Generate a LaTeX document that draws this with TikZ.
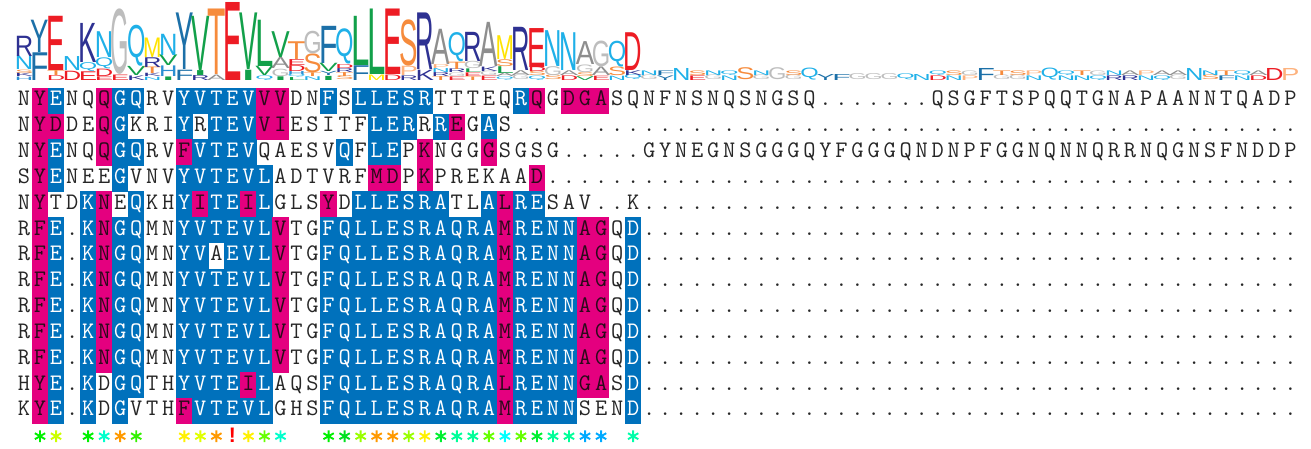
\documentclass[tikz,border=0pt]{standalone}
\usepackage{fontspec}
\usepackage{graphicx}
\newfontfamily\logofont{Liberation Sans}[BoldFont={Liberation Sans Bold}]
\definecolor{hlblue}{HTML}{0071BC}
\definecolor{hlpink}{HTML}{E4007F}
\definecolor{txtdark}{HTML}{262626}
\definecolor{pinktxt}{HTML}{2A0A1A}
\definecolor{aaA}{HTML}{8E8E8E}
\definecolor{aaG}{HTML}{BDBDBD}
\definecolor{aaR}{HTML}{2E3192}
\definecolor{aaK}{HTML}{2E3192}
\definecolor{aaH}{HTML}{2B8FD2}
\definecolor{aaD}{HTML}{ED1C24}
\definecolor{aaE}{HTML}{ED1C24}
\definecolor{aaN}{HTML}{1FB0E8}
\definecolor{aaQ}{HTML}{1FB0E8}
\definecolor{aaF}{HTML}{1C70A8}
\definecolor{aaY}{HTML}{1C70A8}
\definecolor{aaW}{HTML}{1C70A8}
\definecolor{aaI}{HTML}{12A04A}
\definecolor{aaL}{HTML}{12A04A}
\definecolor{aaV}{HTML}{12A04A}
\definecolor{aaM}{HTML}{FFE300}
\definecolor{aaP}{HTML}{FDB27E}
\definecolor{aaS}{HTML}{F68B3C}
\definecolor{aaT}{HTML}{F68B3C}
\definecolor{aaC}{HTML}{F3A0C0}

\makeatletter
\newcounter{seqcol}
\def\pophl#1#2\relax{\def\curhl{#1}\def\hlrest{#2}}
\newcommand\drawcell[4]{%
  \pgfmathsetmacro\cellx{16+16.03*#2}%
  \pgfmathsetmacro\celly{88+25.85*(#1-1)}%
  \def\celltc{txtdark}%
  \if#4b\fill[hlblue] (\cellx-0.25,\celly-0.25) rectangle (\cellx+16.28,\celly+26.1);\def\celltc{white}\fi
  \if#4p\fill[hlpink] (\cellx-0.25,\celly-0.25) rectangle (\cellx+16.28,\celly+26.1);\def\celltc{pinktxt}\fi
  \node[seq,text=\celltc] (s#1-#2) at (\cellx+8.015,\celly+17.75) {#3};%
}
\newcommand\seqrow[3]{%
  \def\hlrest{#3wwwwwwwwwwwwwwwwwwwwwwwwwwwwwwwwwwwwwwwwwwwwwwwwwwwwww}%
  \setcounter{seqcol}{0}%
  \@tfor\seqch:=#2\do{%
    \expandafter\pophl\hlrest\relax
    \drawcell{#1}{\theseqcol}{\seqch}{\curhl}%
    \stepcounter{seqcol}}%
  \loop\ifnum\value{seqcol}<80
    \drawcell{#1}{\theseqcol}{.}{w}\stepcounter{seqcol}%
  \repeat
}
\makeatother

\newcommand\logocol[2]{%
  \gdef\lgn{0}\gdef\lgh{0}%
  \foreach \l/\k in {#2}{\pgfmathparse{\lgn+\k}\xdef\lgn{\pgfmathresult}}%
  \foreach \l/\k in {#2}{\pgfmathparse{\lgh-(\k/\lgn)*ln(\k/\lgn)/0.693147}\xdef\lgh{\pgfmathresult}}%
  \pgfmathparse{(4.321928-\lgh)*\lgn/13*18.05}\xdef\lgR{\pgfmathresult}%
  \gdef\lgy{80}%
  \foreach \l/\k [count=\j] in {#2}{%
    \pgfmathsetmacro\hh{\lgR*\k/\lgn}%
    \node[lg,text=aa\l] (lg#1-\j) at ({16+16.03*#1-1.2},\lgy) {\resizebox*{18.4pt}{\hh pt}{\logofont\l}};%
    \pgfmathparse{\lgy-\hh}\xdef\lgy{\pgfmathresult}%
  }%
}

\begin{document}
\begin{tikzpicture}[x=1pt,y=-1pt,
  seq/.style={font=\ttfamily\fontsize{23.7}{24}\selectfont, inner sep=0pt, anchor=base},
  lg/.style={inner sep=0pt, outer sep=0pt, anchor=south west, font=\fontsize{20}{20}\selectfont},
  astk/.style={circle, inner sep=0pt, minimum size=11.5pt},
  bangst/.style={text=red, font=\logofont\bfseries\fontsize{21}{21}\selectfont, inner sep=0pt, anchor=base}]
\useasboundingbox (0,0) rectangle (1311,448);

% ---------- sequence logo ----------
\logocol{0}{H/1,K/1,S/1,N/4,R/6}
\logocol{1}{F/6,Y/7}
\logocol{2}{D/1,T/1,E/11}
\logocol{3}{D/2,N/3}
\logocol{4}{E/2,Q/2,K/9}
\logocol{5}{E/1,D/2,Q/3,N/7}
\logocol{6}{E/1,G/12}
\logocol{7}{K/1,V/2,Q/9}
\logocol{8}{N/1,K/1,T/2,R/3,M/6}
\logocol{9}{I/1,H/3,V/3,N/6}
\logocol{10}{F/2,Y/11}
\logocol{11}{R/1,I/1,V/11}
\logocol{12}{A/1,T/12}
\logocol{13}{E/13}
\logocol{14}{I/2,V/11}
\logocol{15}{Q/1,V/2,L/10}
\logocol{16}{I/1,G/2,A/3,V/7}
\logocol{17}{L/1,Q/1,H/1,D/2,E/2,T/6}
\logocol{18}{N/1,T/1,S/5,G/6}
\logocol{19}{I/1,Y/1,V/2,F/9}
\logocol{20}{S/1,T/1,R/1,D/1,Q/9}
\logocol{21}{F/3,L/10}
\logocol{22}{M/1,L/12}
\logocol{23}{D/1,E/12}
\logocol{24}{R/1,P/2,S/10}
\logocol{25}{K/2,R/11}
\logocol{26}{T/1,R/1,N/1,P/1,A/9}
\logocol{27}{E/1,G/1,R/1,T/2,Q/8}
\logocol{28}{T/1,E/1,L/1,G/2,R/8}
\logocol{29}{E/1,G/1,K/1,A/10}
\logocol{30}{Q/1,A/1,L/2,S/2,M/7}
\logocol{31}{G/1,A/1,R/9}
\logocol{32}{Q/1,S/1,D/1,E/9}
\logocol{33}{S/1,G/2,N/8}
\logocol{34}{D/1,A/1,N/8}
\logocol{35}{V/1,S/1,G/2,A/6}
\logocol{36}{E/1,A/2,G/6}
\logocol{37}{N/1,S/2,Q/6}
\logocol{38}{Q/1,K/1,D/8}
\logocol{39}{G/1,N/1}
\logocol{40}{Y/1,F/1}
\logocol{41}{N/2}
\logocol{42}{E/1,S/1}
\logocol{43}{G/1,N/1}
\logocol{44}{N/1,Q/1}
\logocol{45}{S/2}
\logocol{46}{G/1,N/1}
\logocol{47}{G/2}
\logocol{48}{G/1,S/1}
\logocol{49}{Q/2}
\logocol{50}{Y/1}
\logocol{51}{F/1}
\logocol{52}{G/1}
\logocol{53}{G/1}
\logocol{54}{G/1}
\logocol{55}{Q/1}
\logocol{56}{N/1}
\logocol{57}{D/1,Q/1}
\logocol{58}{N/1,S/1}
\logocol{59}{P/1,G/1}
\logocol{60}{F/2}
\logocol{61}{G/1,T/1}
\logocol{62}{G/1,S/1}
\logocol{63}{N/1,P/1}
\logocol{64}{Q/2}
\logocol{65}{N/1,Q/1}
\logocol{66}{N/1,T/1}
\logocol{67}{Q/1,G/1}
\logocol{68}{R/1,N/1}
\logocol{69}{R/1,A/1}
\logocol{70}{N/1,P/1}
\logocol{71}{Q/1,A/1}
\logocol{72}{G/1,A/1}
\logocol{73}{N/2}
\logocol{74}{S/1,N/1}
\logocol{75}{F/1,T/1}
\logocol{76}{N/1,Q/1}
\logocol{77}{D/1,A/1}
\logocol{78}{D/2}
\logocol{79}{P/2}

% ---------- alignment rows ----------
\seqrow{1}{NYENQQGQRVYVTEVVVDNFSLLESRTTTEQRQGDGASQNFNSNQSNGSQ.......QSGFTSPQQTGNAPAANNTQADP}{wpbwwpbbwwbbbbbppwwbwbbbbbwwwwwbpwpppww}
\seqrow{2}{NYDDEQGKRIYRTEVVIESITFLERRREGAS}{wppwwpbwwwbwbbbppwwwwwbbbwbpwbwwwwwwwww}
\seqrow{3}{NYENQQGQRVFVTEVQAESVQFLEPKNGGGSGSG.....GYNEGNSGGGQYFGGGQNDNPFGGNQNNQRRNQGNSFNDDP}{wpbwwpbbwwpbbbbwwwwwbwbbwpwwwpwwwwwwwww}
\seqrow{4}{SYENEEGVNVYVTEVLADTVRFMDPKPREKAAD}{wpbwwwbwwwbbbbbbwwwwwwppwpwwwwwwpwwwwww}
\seqrow{5}{NYTDKNEQKHYITEILGLSYDLLESRATLALRESAV..K}{wpwwbpwbwwbpbbpbwwwpwbbbbbbwwbpbbwwwwww}
\seqrow{6}{RFE.KNGQMNYVTEVLVTGFQLLESRAQRAMRENNAGQD}{wpbwbpbbwwbbbbbbpwwbbbbbbbbbbbpbbbbppwb}
\seqrow{7}{RFE.KNGQMNYVAEVLVTGFQLLESRAQRAMRENNAGQD}{wpbwbpbbwwbbwbbbpwwbbbbbbbbbbbpbbbbppwb}
\seqrow{8}{RFE.KNGQMNYVTEVLVTGFQLLESRAQRAMRENNAGQD}{wpbwbpbbwwbbbbbbpwwbbbbbbbbbbbpbbbbppwb}
\seqrow{9}{RFE.KNGQMNYVTEVLVTGFQLLESRAQRAMRENNAGQD}{wpbwbpbbwwbbbbbbpwwbbbbbbbbbbbpbbbbppwb}
\seqrow{10}{RFE.KNGQMNYVTEVLVTGFQLLESRAQRAMRENNAGQD}{wpbwbpbbwwbbbbbbpwwbbbbbbbbbbbpbbbbppwb}
\seqrow{11}{RFE.KNGQMNYVTEVLVTGFQLLESRAQRAMRENNAGQD}{wpbwbpbbwwbbbbbbpwwbbbbbbbbbbbpbbbbppwb}
\seqrow{12}{HYE.KDGQTHYVTEILAQSFQLLESRAQRALRENNGASD}{wpbwbwbbwwbbbbpbwwwbbbbbbbbbbbpbbbbppwb}
\seqrow{13}{KYE.KDGVTHFVTEVLGHSFQLLESRAQRAMRENNSEND}{wpbwbwbwwwpbbbbbwwwbbbbbbbbbbbpbbbbwwwb}

% ---------- conservation line ----------
\foreach \c/\hx in {1/00F000,2/CCFF00,4/00F000,5/00FFCC,6/FF9900,7/33F000,
  10/FFF000,11/E0FF00,12/FF9900,14/FFF000,15/66FF00,16/00FFCC,
  19/00F000,20/00E020,21/99FF00,22/FF9900,23/FF9900,24/99FF00,25/FFF000,
  26/00F030,27/00FF99,28/00FF99,29/66FF00,30/00FFFF,31/66FF00,32/00F030,
  33/00FF99,34/00FF99,35/00AAFF,36/00AAFF,38/00FFAA}{%
  \definecolor{astc}{HTML}{\hx}%
  \node[astk] (ast\c) at ({24.015+16.03*\c},436.2) {};
  \draw[astc, line width=1.9pt] (ast\c.90) -- (ast\c.270) (ast\c.30) -- (ast\c.210) (ast\c.150) -- (ast\c.330);
}
\node[bangst] (bang13) at (232.4,442.7) {!};
\end{tikzpicture}
\end{document}
